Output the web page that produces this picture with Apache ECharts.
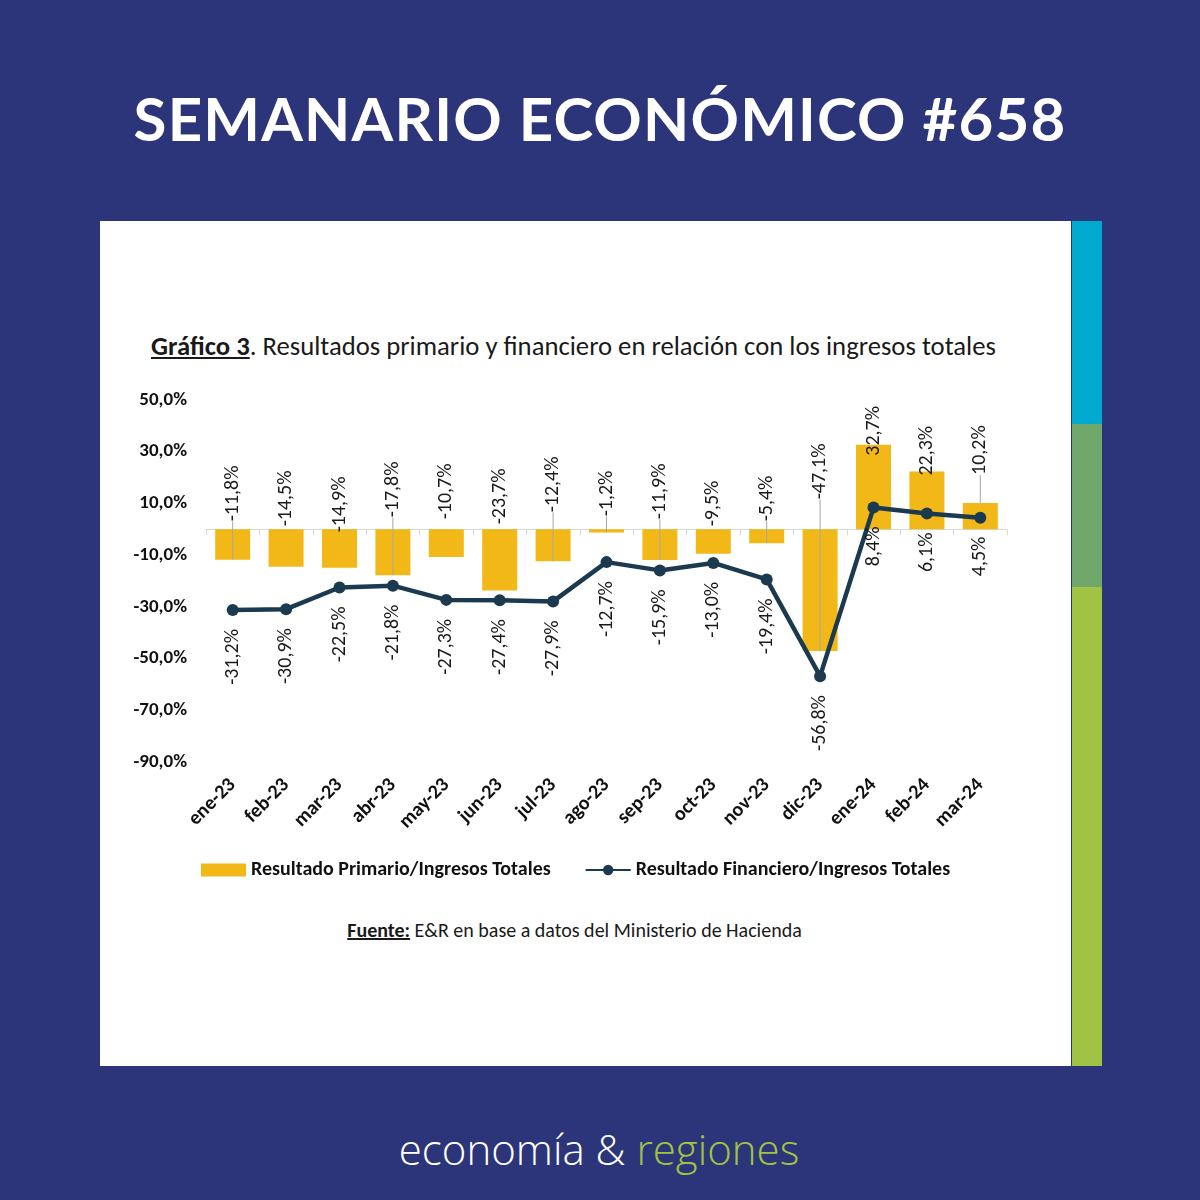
<!DOCTYPE html>
<html>
<head>
<meta charset="utf-8">
<script src="https://cdn.jsdelivr.net/npm/echarts@6/dist/echarts.min.js"></script>
<style>
  html, body { margin: 0; padding: 0; }
  body { width: 1200px; height: 1200px; background: #2D357A; position: relative; overflow: hidden; }
  .abs { position: absolute; }
  #panel { left: 100px; top: 221px; width: 971px; height: 845px; background: #ffffff; }
  #bar1 { left: 1072px; top: 221px; width: 30px; height: 203px; background: #00AACE; }
  #bar2 { left: 1072px; top: 424px; width: 30px; height: 163px; background: #6FA86A; }
  #bar3 { left: 1072px; top: 587px; width: 30px; height: 479px; background: #A0C343; }
  #mainTitle { left: 0; width: 1200px; top: 82px; text-align: center; color: #fff;
    font-family: Lato, "Open Sans", sans-serif; font-weight: 700; font-size: 60px; letter-spacing: 1.2px; line-height: 72px; }
  #chartTitle { left: 151px; top: 330px; color: #1a1a1a; font-family: Carlito, "Noto Sans", sans-serif;
    font-size: 26.7px; line-height: 32px; white-space: nowrap; }
  #chartTitle b { text-decoration: underline; }
  #source { left: 0; width: 1149px; top: 918px; text-align: center; color: #1a1a1a; font-family: Carlito, "Noto Sans", sans-serif;
    font-size: 20px; line-height: 24px; white-space: nowrap; }
  #source b { text-decoration: underline; }
  #footer { left: 0; width: 1198px; top: 1122px; text-align: center; color: #fff; font-family: "Open Sans", Lato, sans-serif;
    font-weight: 300; font-size: 42px; line-height: 54px; }
  #footer span { color: #A0C343; }
  #chart { left: 0; top: 0; width: 1200px; height: 1200px; }
</style>
</head>
<body>
<div id="panel" class="abs"></div>
<div id="bar1" class="abs"></div>
<div id="bar2" class="abs"></div>
<div id="bar3" class="abs"></div>
<div id="mainTitle" class="abs">SEMANARIO ECONÓMICO #658</div>
<div id="chartTitle" class="abs"><b>Gráfico 3</b>. Resultados primario y financiero en relación con los ingresos totales</div>
<div id="source" class="abs"><b>Fuente:</b> E&amp;R en base a datos del Ministerio de Hacienda</div>
<div id="footer" class="abs">economía &amp; <span>regiones</span></div>
<div id="chart" class="abs"></div>
<script>
const months = ['ene-23','feb-23','mar-23','abr-23','may-23','jun-23','jul-23','ago-23','sep-23','oct-23','nov-23','dic-23','ene-24','feb-24','mar-24'];
const primario = [-11.8, -14.5, -14.9, -17.8, -10.7, -23.7, -12.4, -1.2, -11.9, -9.5, -5.4, -47.1, 32.7, 22.3, 10.2];
const financiero = [-31.2, -30.9, -22.5, -21.8, -27.3, -27.4, -27.9, -12.7, -15.9, -13.0, -19.4, -56.8, 8.4, 6.1, 4.5];
const yTickValues = [-90, -70, -50, -30, -10, 10, 30, 50];
// label distance (px) of the primary labels above the bar top / zero line
const primarioLabelGap = [8, 3, -3, 12, 10, 5, 17, 13, 10, 3, 8, 30, -11, -4, 28];
// months whose primary label has a leader line (as in the source chart)
const leaderIdx = [0, 3, 6, 7, 8, 10, 11, 14];

const FONT = 'Carlito, "Noto Sans", sans-serif';
const fmt = v => v.toFixed(1).replace('.', ',') + '%';

const chart = echarts.init(document.getElementById('chart'), null, { renderer: 'canvas' });
chart.setOption({
  backgroundColor: 'transparent',
  animation: false,
  textStyle: { fontFamily: FONT },
  grid: { left: 206, right: 193, top: 400, bottom: 438, containLabel: false },
  legend: {
    left: 201, top: 860, padding: 0, itemWidth: 45, itemHeight: 13, itemGap: 34,
    textStyle: { fontFamily: FONT, fontSize: 20, fontWeight: 'bold', color: '#111' },
    data: [
      { name: 'Resultado Primario/Ingresos Totales', icon: 'rect' },
      { name: 'Resultado Financiero/Ingresos Totales' }
    ]
  },
  xAxis: [
    {
      type: 'category', data: months, position: 'bottom',
      axisLine: { onZero: true, lineStyle: { color: '#d9d9d9', width: 1 } },
      axisTick: { show: true, length: 6, lineStyle: { color: '#d9d9d9' } },
      axisLabel: { show: false }
    },
    {
      type: 'category', data: months, position: 'bottom',
      axisLine: { show: false, onZero: false }, axisTick: { show: false },
      axisLabel: { rotate: 45, margin: 20, fontFamily: FONT, fontSize: 20, fontWeight: 'bold', color: '#111' }
    }
  ],
  yAxis: {
    type: 'value', min: -90, max: 50, interval: 10,
    axisLine: { show: false }, axisTick: { show: false }, splitLine: { show: false },
    axisLabel: {
      margin: 19, fontFamily: FONT, fontSize: 19, fontWeight: 'bold', color: '#111',
      formatter: v => yTickValues.includes(Math.round(v)) ? v.toFixed(1).replace('.', ',') + '%' : ''
    }
  },
  series: [
    {
      name: 'Resultado Primario/Ingresos Totales', type: 'bar', xAxisIndex: 0,
      barWidth: 35, itemStyle: { color: '#F2B818' },
      data: primario.map((v, i) => ({
        value: v,
        label: { distance: primarioLabelGap[i] }
      })),
      label: {
        show: true, position: 'top', rotate: 90, align: 'left', verticalAlign: 'middle',
        fontFamily: FONT, fontSize: 20, color: '#1a1a1a',
        formatter: p => fmt(p.value)
      },
      z: 2
    },
    {
      name: 'leaders', type: 'custom', xAxisIndex: 0, silent: true, z: 3,
      data: leaderIdx.map(i => [i, primario[i]]),
      renderItem: (params, api) => {
        const i = api.value(0), v = api.value(1);
        const zero = api.coord([i, 0]);
        const end = api.coord([i, v]);
        const gap = primarioLabelGap[i];
        const startY = v < 0 ? zero[1] - gap : end[1] - gap;
        return {
          type: 'line',
          shape: { x1: zero[0], y1: startY, x2: end[0], y2: end[1] },
          style: { stroke: '#a6a6a6', lineWidth: 1 }
        };
      }
    },
    {
      name: 'Resultado Financiero/Ingresos Totales', type: 'line', xAxisIndex: 0,
      data: financiero,
      lineStyle: { color: '#1B3A4F', width: 4.5 },
      itemStyle: { color: '#1B3A4F' },
      symbol: 'circle', symbolSize: 12,
      label: {
        show: true, position: 'bottom', distance: 13, rotate: 90, align: 'right', verticalAlign: 'middle',
        fontFamily: FONT, fontSize: 20, color: '#1a1a1a',
        formatter: p => fmt(p.value)
      },
      z: 4
    }
  ]
});
</script>
</body>
</html>
